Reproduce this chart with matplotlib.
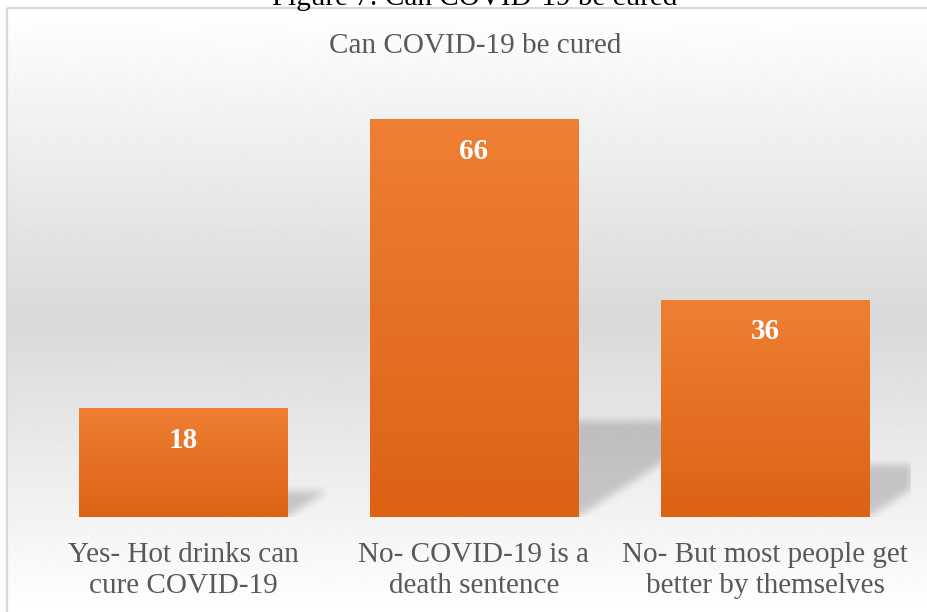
import numpy as np
import matplotlib.pyplot as plt
from matplotlib.patches import Rectangle
from matplotlib.colors import LinearSegmentedColormap

categories = [
    "Yes- Hot drinks can\ncure COVID-19",
    "No- COVID-19 is a\ndeath sentence",
    "No- But most people get\nbetter by themselves",
]
values = [18, 66, 36]

chart_title = "Can COVID-19 be cured"
caption = "Figure 7: Can COVID-19 be cured"

W, H = 928, 612
plt.rcParams["font.family"] = ["Liberation Serif", "DejaVu Serif"]


def blur(a, sigma):
    r = int(3 * sigma)
    k = np.exp(-0.5 * (np.arange(-r, r + 1) / sigma) ** 2)
    k /= k.sum()
    a = np.apply_along_axis(lambda v: np.convolve(v, k, mode="same"), 0, a)
    a = np.apply_along_axis(lambda v: np.convolve(v, k, mode="same"), 1, a)
    return a


fig = plt.figure(figsize=(W / 100, H / 100), dpi=100)

# background: chart area with white -> grey -> white gradient and thin frame
bg = fig.add_axes([0, 0, 1, 1], zorder=0)
bg.set_xlim(0, W)
bg.set_ylim(H, 0)
bg.axis("off")
rows = np.arange(8, H + 1)
shade = np.interp(rows, [8, 320, H], [255, 217, 255]) / 255
grad = np.repeat(shade[:, None], 2, axis=1)
bg.imshow(grad, cmap="gray", vmin=0, vmax=1, aspect="auto",
          extent=(7, W + 20, H, 8), interpolation="bilinear")
bg.add_patch(Rectangle((7, 8), W + 40, H + 40, fill=False,
                       edgecolor="#D9D9D9", lw=1.6))
fig.text(475 / W, 1 - 5 / H, caption, ha="center", va="baseline",
         fontsize=21, color="black")
fig.text(475 / W, 1 - 46 / H, chart_title, ha="center", va="center",
         fontsize=21, color="#595959")

ax = fig.add_axes([37.5 / W, 95 / H, 873 / W, 422 / H], zorder=1)
ax.patch.set_alpha(0)
ax.set_xlim(-0.5, 2.5)
ax.set_ylim(0, 70)
for sp in ax.spines.values():
    sp.set_visible(False)
ax.set_yticks([])

x = np.arange(len(values))
bar_w = 0.715

# soft perspective shadow cast back and to the right of each bar
nx, ny = 873, 422
gx = np.linspace(-0.5, 2.5, nx)
gy = np.linspace(0, 70, ny)
GX, GY = np.meshgrid(gx, gy)
squash, shear = 0.24, 0.0077
mask = np.zeros_like(GX)
for xi, v in zip(x, values):
    h = GY / squash
    x0 = GX - shear * h
    inside = (h <= v) & (x0 >= xi - bar_w / 2) & (x0 <= xi + bar_w / 2)
    mask[inside] = 1.0
mask = blur(mask, 4)
shadow = np.zeros((ny, nx, 4))
shadow[..., 3] = 0.18 * mask
ax.imshow(shadow, origin="lower", extent=(-0.5, 2.5, 0, 70),
          aspect="auto", zorder=1, interpolation="bilinear")

bars = ax.bar(x, values, width=bar_w, color="#E8732A", zorder=2)

orange = LinearSegmentedColormap.from_list("orange", ["#DC6214", "#EE7F33"])
ramp = np.linspace(0, 1, 256)[:, None]
for b in bars:
    x0, y0 = b.get_x(), b.get_y()
    im = ax.imshow(ramp, cmap=orange, origin="lower", aspect="auto",
                   extent=(x0, x0 + b.get_width(), y0, y0 + b.get_height()),
                   zorder=3)
    im.set_clip_path(b)

for xi, v in zip(x, values):
    ax.annotate(str(v), (xi, v), xytext=(0, -32), textcoords="offset pixels",
                ha="center", va="center", fontsize=21, fontweight="bold",
                color="white", zorder=4)

ax.set_xticks(x)
ax.set_xticklabels(categories, fontsize=21, color="#595959", linespacing=1.27)
ax.tick_params(axis="x", length=0, pad=18)

fig.savefig("out.png", dpi=100)
